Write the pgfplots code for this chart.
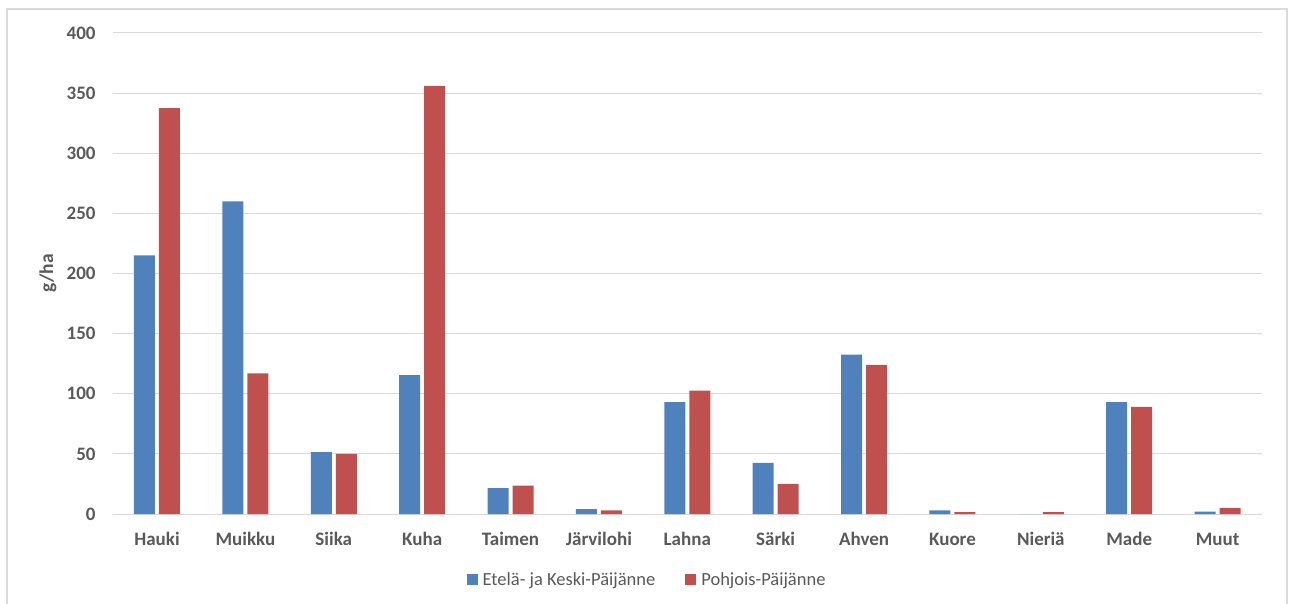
\documentclass[border=0pt]{standalone}
\usepackage{pgfplots}
\pgfplotsset{compat=1.18}
\usepackage{fontspec}
\setmainfont{Carlito}
\definecolor{cblue}{HTML}{4F81BD}
\definecolor{cred}{HTML}{C0504D}
\definecolor{tgray}{HTML}{595959}
\definecolor{ggray}{HTML}{D9D9D9}
\begin{document}
\begin{tikzpicture}
\useasboundingbox (0,0) rectangle (1290pt,603pt);
\draw[color=ggray, line width=1.5pt] (7pt,-10pt) rectangle (1287pt,594pt);
\begin{axis}[
  at={(112.8pt,89pt)}, anchor=south west,
  scale only axis, width=1149pt, height=481pt,
  xmin=-0.5, xmax=12.5, ymin=0, ymax=400,
  ybar=4pt, bar width=21pt,
  axis line style={draw=none},
  major tick length=0pt,
  ytick={0,50,...,400},
  ymajorgrids, grid style={color=ggray, line width=1pt},
  xtick=data,
  xticklabels={Hauki,Muikku,Siika,Kuha,Taimen,Järvilohi,Lahna,Särki,Ahven,Kuore,Nieriä,Made,Muut},
  /pgf/number format/assume math mode=true,
  yticklabel style={inner sep=0pt, xshift=-17pt, anchor=east, font=\fontsize{19}{19}\selectfont\bfseries, text=tgray},
  xticklabel style={inner sep=0pt, yshift=-31pt, anchor=base, font=\fontsize{19}{19}\selectfont\bfseries, text=tgray},
  ylabel={g/ha},
  ylabel style={at={(rel axis cs:-0.0564,0.5)}, anchor=center, font=\fontsize{19.5}{19.5}\selectfont\bfseries, text=tgray},
  legend style={at={(rel axis cs:0.465,-0.137)}, anchor=center, draw=none, fill=none,
    legend columns=2, font=\fontsize{18.5}{18.5}\selectfont, text=tgray,
    /tikz/every even column/.append style={column sep=28pt},
    /tikz/every odd column/.append style={column sep=3pt},
    legend cell align=left, inner sep=0pt},
  legend image code/.code={\fill[#1] (0pt,-5.5pt) rectangle (11pt,5.5pt);},
]
\addplot[fill=cblue, draw=none] coordinates {
(0,215) (1,260) (2,51.5) (3,115.5) (4,21.5) (5,4) (6,93) (7,42.5) (8,132.5) (9,3) (10,0) (11,93) (12,2)};
\addplot[fill=cred, draw=none] coordinates {
(0,337.5) (1,117) (2,50) (3,356) (4,23.5) (5,3) (6,102.5) (7,25) (8,124) (9,1.5) (10,1.5) (11,89) (12,5)};
\legend{Etelä- ja Keski-Päijänne, Pohjois-Päijänne}
\end{axis}
\end{tikzpicture}
\end{document}
